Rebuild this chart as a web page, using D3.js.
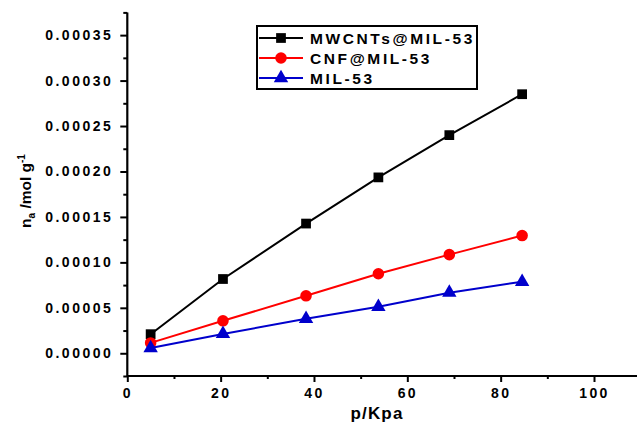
<!DOCTYPE html>
<html>
<head>
<meta charset="utf-8">
<script src="https://cdn.jsdelivr.net/npm/d3@7"></script>
<style>
  html, body { margin: 0; padding: 0; background: #fff; }
  svg { display: block; }
  text { font-family: "Liberation Sans", Arial, sans-serif; font-weight: bold; fill: #000; }
</style>
</head>
<body>
<svg id="chart" width="637" height="424"></svg>
<script>
const pressure = [5, 20.5, 38.3, 53.8, 69, 84.6];
const mwcnts = [0.000021, 0.0000817, 0.0001427, 0.0001935, 0.000240, 0.000285];
const cnf = [0.0000114, 0.0000357, 0.0000632, 0.0000875, 0.0001085, 0.0001295];
const mil53 = [0.0000058, 0.0000213, 0.0000379, 0.0000511, 0.0000667, 0.0000787];
const seriesNames = ["MWCNTs@MIL-53", "CNF@MIL-53", "MIL-53"];
const xTicks = [0, 20, 40, 60, 80, 100];
const yTicks = [0, 0.00005, 0.0001, 0.00015, 0.0002, 0.00025, 0.0003, 0.00035];

const svg = d3.select("#chart");
const x = d3.scaleLinear().domain([0, 120]).range([127.3, 127.3 + 4.667 * 120]);
const y = d3.scaleLinear().domain([-0.000025, 0.000375]).range([376, 12.4]);

const series = [
  { name: seriesNames[0], values: mwcnts, color: "#000000", shape: d3.symbolSquare, size: 95 },
  { name: seriesNames[1], values: cnf, color: "#ff0000", shape: d3.symbolCircle, size: 105 },
  { name: seriesNames[2], values: mil53, color: "#0000cc", shape: d3.symbolTriangle, size: 90 }
];

const xMinor = d3.range(10, 120, 20);
const yMinor = d3.range(-0.000025, 0.000376, 0.00005);

const gx = svg.append("g").attr("transform", "translate(0,376)");
gx.call(d3.axisBottom(x).tickValues(xTicks).tickSize(6).tickPadding(6).tickFormat(d3.format("d")));
gx.append("g").call(d3.axisBottom(x).tickValues(xMinor).tickSize(3).tickFormat(""))
  .select(".domain").remove();
gx.selectAll(".domain").attr("stroke-width", 2.2).attr("d", "M127.3,0H700");
gx.selectAll(".tick line").attr("stroke-width", 2);
gx.selectAll(".tick text").style("font-size", "14px").style("letter-spacing", "2.4px")
  .attr("dy", "0.71em");

const gy = svg.append("g").attr("transform", "translate(127.3,0)");
gy.call(d3.axisLeft(y).tickValues(yTicks).tickSize(7).tickPadding(7).tickFormat(d3.format(".5f")));
gy.append("g").call(d3.axisLeft(y).tickValues(yMinor).tickSize(4).tickFormat(""))
  .select(".domain").remove();
gy.selectAll(".domain").attr("stroke-width", 2.2).attr("d", "M0,12.4V377");
gy.selectAll(".tick line").attr("stroke-width", 2);
gy.selectAll(".tick text").style("font-size", "14px").style("letter-spacing", "2.5px");
svg.selectAll(".tick text").attr("font-family", null);

const line = d3.line().x((d, i) => x(pressure[i])).y(d => y(d));
series.forEach(s => {
  svg.append("path").datum(s.values).attr("d", line)
    .attr("fill", "none").attr("stroke", s.color).attr("stroke-width", 2);
  svg.selectAll(null).data(s.values).enter().append("path")
    .attr("transform", (d, i) => `translate(${x(pressure[i])},${y(d)})`)
    .attr("d", d3.symbol().type(s.shape).size(s.size))
    .attr("fill", s.color);
});

const legend = svg.append("g");
legend.append("rect").attr("x", 257).attr("y", 26).attr("width", 220).attr("height", 63)
  .attr("fill", "#fff").attr("stroke", "#000").attr("stroke-width", 2);
const rowsY = [38, 58, 78];
series.forEach((s, i) => {
  const ly = rowsY[i];
  legend.append("line").attr("x1", 259).attr("x2", 303).attr("y1", ly).attr("y2", ly)
    .attr("stroke", s.color).attr("stroke-width", 2);
  legend.append("path").attr("transform", `translate(281,${ly})`)
    .attr("d", d3.symbol().type(s.shape).size(s.size)).attr("fill", s.color);
  legend.append("text").attr("x", 310).attr("y", ly + 6).text(s.name)
    .style("font-size", "15.5px").style("letter-spacing", "2.6px");
});

svg.append("text").attr("x", 377).attr("y", 419).attr("text-anchor", "middle")
  .style("font-size", "17px").style("letter-spacing", "1.2px").text("p/Kpa");

const yt = svg.append("text").attr("transform", "translate(31,191) rotate(-90)")
  .attr("text-anchor", "middle").style("font-size", "15.5px");
yt.append("tspan").text("n");
yt.append("tspan").attr("dy", 4).style("font-size", "10px").text("a");
yt.append("tspan").attr("dy", -4).text(" /mol g");
yt.append("tspan").attr("dy", -6).style("font-size", "10px").text("-1");
</script>
</body>
</html>
